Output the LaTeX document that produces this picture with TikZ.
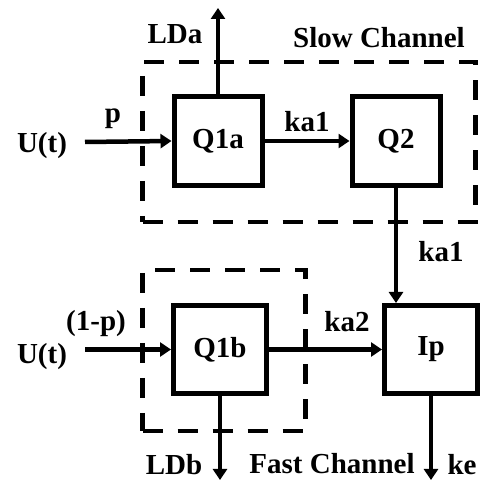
\documentclass[tikz,border=0pt]{standalone}
\usepackage{fontspec}
\setmainfont{Liberation Serif}
\usetikzlibrary{arrows.meta}

\begin{document}
\begin{tikzpicture}[x=1pt, y=-1pt, >={Triangle[length=11pt, width=14pt]},
    font=\fontsize{29}{32}\selectfont\bfseries,
    tank/.style={draw, line width=5pt, minimum width=88pt, minimum height=89pt, inner sep=0pt},
    tankwide/.style={tank, minimum width=93pt, minimum height=88pt},
    group/.style={draw, line width=4.5pt, dash pattern=on 20pt off 15pt, inner sep=0pt},
    lbl/.style={inner sep=0pt},
    flow/.style={->, line width=4.5pt}]

  \useasboundingbox (0,0) rectangle (483,481);

  % channel frames
  \node[group, minimum width=333pt, minimum height=160pt] (slow) at (309,142) {};
  \node[group, minimum width=163pt, minimum height=161pt] (fast) at (224,350.5) {};

  % compartments
  \node[tank]     (q1a) at (218,141) {Q1a};
  \node[tank]     (q2)  at (396,141) {Q2};
  \node[tankwide] (q1b) at (220,349.5) {Q1b};
  \node[tankwide] (ip)  at (431,349.5) {Ip};

  % free ends
  \coordinate (in1) at (85,142);
  \coordinate (in2) at (85,349.5);
  \coordinate (lda) at (218,8);
  \coordinate (ldb) at (220,480);
  \coordinate (ke)  at (431,480);

  \foreach \a/\b in {in1/q1a.west, q1a/q2, q1a.north/lda, in2/q1b.west, q1b/ip, q1b.south/ldb, ip.south/ke} {
    \draw[flow] (\a) -- (\b);
  }
  \draw[flow] (q2.south) -- (q2.south |- ip.north);

  % labels
  \node[lbl] (ldatxt)  at (175,34)  {LDa};
  \node[lbl] (slowtxt) at (379,38)  {Slow Channel};
  \node[lbl] (ptxt)    at (113,119) {p};
  \node[lbl] (u1txt)   at (42,146)  {U(t)};
  \node[lbl] (ka1txt)  at (307,122) {ka1};
  \node[lbl] (ka1vtxt) at (441,252) {ka1};
  \node[lbl] (qtxt)    at (96,324)  {(1-p)};
  \node[lbl] (u2txt)   at (42,357)  {U(t)};
  \node[lbl] (ka2txt)  at (347,322) {ka2};
  \node[lbl] (ldbtxt)  at (174,465) {LDb};
  \node[lbl] (fasttxt) at (332,464) {Fast Channel};
  \node[lbl] (ketxt)   at (462,465) {ke};
\end{tikzpicture}
\end{document}
